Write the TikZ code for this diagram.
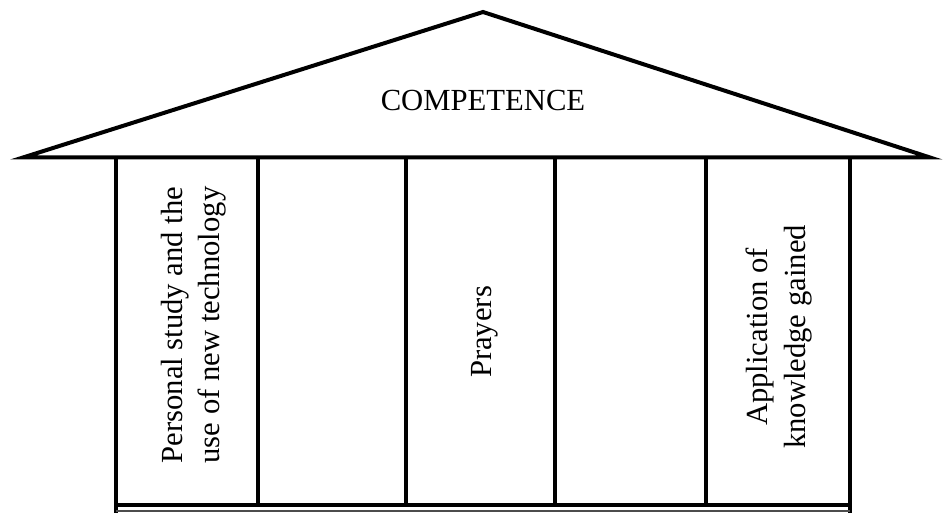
\documentclass[tikz,border=0pt]{standalone}
\usepackage{fontspec}
\setmainfont{Liberation Serif}
\begin{document}
\begin{tikzpicture}[x=0.75pt,y=-0.75pt,
  thickline/.style={line width=3pt},
  lbl/.style={font=\fontsize{23}{28}\selectfont, inner sep=0pt, align=center}]
\useasboundingbox (0,0) rectangle (946,513);
% roof
\draw[thickline, line join=miter] (23,157.5) -- (483,12) -- (930,157.5) -- cycle;
% outer pillars frame
\draw[thickline] (116,157.5) -- (116,520);
\draw[thickline] (850,157.5) -- (850,520);
\foreach \x in {258,406,555,706} \draw[thickline] (\x,157.5) -- (\x,505);
\draw[thickline] (116,505) -- (850,505);
\draw[line width=0.8pt, black!70] (116,511) -- (850,511);
% texts
\node[lbl] (comp) at (483,100) {COMPETENCE};
\node[lbl, rotate=90] (p1) at (194,325) {Personal study and the\\use of new technology};
\node[lbl, rotate=90] (p3) at (485,332) {Prayers};
\node[lbl, rotate=90] (p5) at (779,337) {Application of\\knowledge gained};
\end{tikzpicture}
\end{document}
